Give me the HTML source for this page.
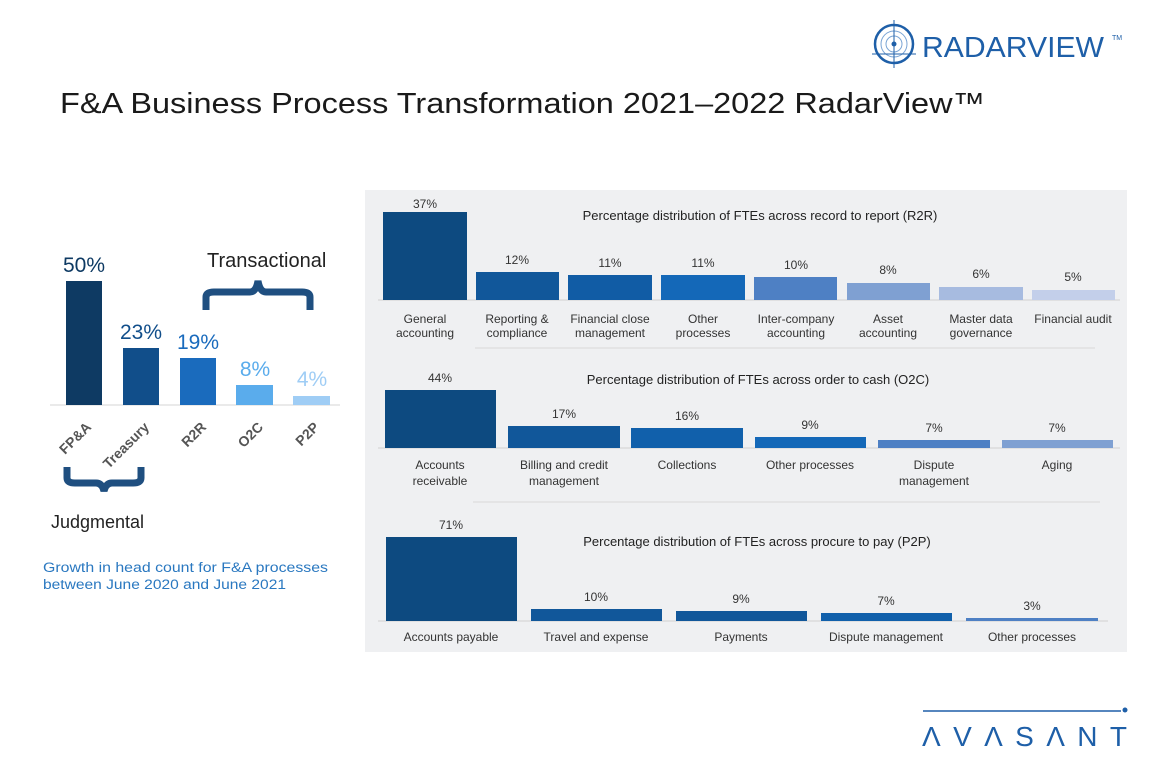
<!DOCTYPE html>
<html><head><meta charset="utf-8"><style>
html,body{margin:0;padding:0;background:#fff;width:1152px;height:768px;overflow:hidden}
svg{display:block}
text{font-family:"Liberation Sans",sans-serif}
</style></head><body>
<svg width="1152" height="768" viewBox="0 0 1152 768" xmlns="http://www.w3.org/2000/svg">
<!-- Radarview logo -->
<g stroke="#1e5fa8" fill="none">
<circle cx="894" cy="44" r="19" stroke-width="2.5"/>
<circle cx="894" cy="44" r="13" stroke-width="1" stroke="#7aa4d4"/>
<circle cx="894" cy="44" r="8" stroke-width="1" stroke="#7aa4d4"/>
<line x1="894" y1="20" x2="894" y2="68" stroke-width="1"/>
<line x1="872" y1="54" x2="916" y2="54" stroke-width="1"/>
</g>
<circle cx="894" cy="44" r="2.5" fill="#1e5fa8"/>
<text x="922" y="57" font-size="29" fill="#1e5fa8" textLength="182" lengthAdjust="spacingAndGlyphs">RADARVIEW</text>
<text x="1112" y="40" font-size="7" fill="#1e5fa8">TM</text>
<!-- Title -->
<text x="60" y="113" font-size="29" fill="#1a1a1a" textLength="925" lengthAdjust="spacingAndGlyphs">F&amp;A Business Process Transformation 2021–2022 RadarView™</text>
<!-- Left chart -->
<line x1="50" y1="405" x2="340" y2="405" stroke="#d6d6d6"/>
<rect x="66" y="281" width="36" height="124" fill="#0e3a63"/>
<rect x="123" y="348" width="36" height="57" fill="#114e8a"/>
<rect x="180" y="358" width="36" height="47" fill="#1a6bbd"/>
<rect x="236" y="385" width="37" height="20" fill="#5aacec"/>
<rect x="293" y="396" width="37" height="9" fill="#9fcdf5"/>
<g font-size="21" text-anchor="middle">
<text x="84" y="272" fill="#0e3a63">50%</text>
<text x="141" y="339" fill="#114e8a">23%</text>
<text x="198" y="349" fill="#1a6bbd">19%</text>
<text x="255" y="376" fill="#5aacec">8%</text>
<text x="312" y="386" fill="#9fcdf5">4%</text>
</g>
<g font-size="14" font-weight="bold" fill="#555" text-anchor="end">
<text transform="translate(92,428) rotate(-45)">FP&amp;A</text>
<text transform="translate(150,428) rotate(-45)">Treasury</text>
<text transform="translate(207,428) rotate(-45)">R2R</text>
<text transform="translate(264,428) rotate(-45)">O2C</text>
<text transform="translate(320,428) rotate(-45)">P2P</text>
</g>
<text x="207" y="267" font-size="20" fill="#222">Transactional</text>
<path d="M206,310 L206,297 Q206,292 214,292 L250,292 Q256,292 258,281 Q260,292 266,292 L302,292 Q310,292 310,297 L310,310" stroke="#1f4f80" stroke-width="7" fill="none"/>
<path d="M67,467 L67,478 Q67,483 75,483 L96,483 Q102,483 104,491 Q106,483 112,483 L133,483 Q141,483 141,478 L141,467" stroke="#1f4f80" stroke-width="7" fill="none"/>
<text x="51" y="528" font-size="18" fill="#222">Judgmental</text>
<text x="43" y="572" font-size="13.5" fill="#2a78c0" textLength="285" lengthAdjust="spacingAndGlyphs">Growth in head count for F&amp;A processes</text>
<text x="43" y="589" font-size="13.5" fill="#2a78c0" textLength="243" lengthAdjust="spacingAndGlyphs">between June 2020 and June 2021</text>
<!-- Right panel -->
<rect x="365" y="190" width="762" height="462" fill="#eff0f2"/>
<!-- R2R -->
<line x1="378" y1="300" x2="1120" y2="300" stroke="#d0d0d0"/>
<line x1="475" y1="348" x2="1095" y2="348" stroke="#d8d8d8"/>
<rect x="383" y="212" width="84" height="88" fill="#0d4a80"/>
<rect x="476" y="272" width="83" height="28" fill="#11579a"/>
<rect x="568" y="275" width="84" height="25" fill="#115ca5"/>
<rect x="661" y="275" width="84" height="25" fill="#1468b8"/>
<rect x="754" y="277" width="83" height="23" fill="#4e80c4"/>
<rect x="847" y="283" width="83" height="17" fill="#7fa0d2"/>
<rect x="939" y="287" width="84" height="13" fill="#a7bbe0"/>
<rect x="1032" y="290" width="83" height="10" fill="#c3cfea"/>
<g font-size="12" fill="#333" text-anchor="middle">
<text x="425" y="208">37%</text><text x="517" y="264">12%</text><text x="610" y="267">11%</text><text x="703" y="267">11%</text><text x="796" y="269">10%</text><text x="888" y="274">8%</text><text x="981" y="278">6%</text><text x="1073" y="281">5%</text>
<text x="425" y="323">General</text><text x="425" y="337">accounting</text>
<text x="517" y="323">Reporting &amp;</text><text x="517" y="337">compliance</text>
<text x="610" y="323">Financial close</text><text x="610" y="337">management</text>
<text x="703" y="323">Other</text><text x="703" y="337">processes</text>
<text x="796" y="323">Inter-company</text><text x="796" y="337">accounting</text>
<text x="888" y="323">Asset</text><text x="888" y="337">accounting</text>
<text x="981" y="323">Master data</text><text x="981" y="337">governance</text>
<text x="1073" y="323">Financial audit</text>
</g>
<text x="760" y="220" font-size="13" fill="#222" text-anchor="middle">Percentage distribution of FTEs across record to report (R2R)</text>
<!-- O2C -->
<line x1="378" y1="448" x2="1120" y2="448" stroke="#d0d0d0"/>
<line x1="473" y1="502" x2="1100" y2="502" stroke="#d8d8d8"/>
<rect x="385" y="390" width="111" height="58" fill="#0d4a80"/>
<rect x="508" y="426" width="112" height="22" fill="#11579a"/>
<rect x="631" y="428" width="112" height="20" fill="#1160ab"/>
<rect x="755" y="437" width="111" height="11" fill="#1468b8"/>
<rect x="878" y="440" width="112" height="8" fill="#4e80c4"/>
<rect x="1002" y="440" width="111" height="8" fill="#7fa0d2"/>
<g font-size="12" fill="#333" text-anchor="middle">
<text x="440" y="382">44%</text><text x="564" y="418">17%</text><text x="687" y="420">16%</text><text x="810" y="429">9%</text><text x="934" y="432">7%</text><text x="1057" y="432">7%</text>
<text x="440" y="469">Accounts</text><text x="440" y="485">receivable</text>
<text x="564" y="469">Billing and credit</text><text x="564" y="485">management</text>
<text x="687" y="469">Collections</text>
<text x="810" y="469">Other processes</text>
<text x="934" y="469">Dispute</text><text x="934" y="485">management</text>
<text x="1057" y="469">Aging</text>
</g>
<text x="758" y="384" font-size="13" fill="#222" text-anchor="middle">Percentage distribution of FTEs across order to cash (O2C)</text>
<!-- P2P -->
<line x1="378" y1="621" x2="1108" y2="621" stroke="#d0d0d0"/>
<rect x="386" y="537" width="131" height="84" fill="#0d4a80"/>
<rect x="531" y="609" width="131" height="12" fill="#11579a"/>
<rect x="676" y="611" width="131" height="10" fill="#11579a"/>
<rect x="821" y="613" width="131" height="8" fill="#1160ab"/>
<rect x="966" y="618" width="132" height="3" fill="#4e80c4"/>
<g font-size="12" fill="#333" text-anchor="middle">
<text x="451" y="529">71%</text><text x="596" y="601">10%</text><text x="741" y="603">9%</text><text x="886" y="605">7%</text><text x="1032" y="610">3%</text>
<text x="451" y="641">Accounts payable</text><text x="596" y="641">Travel and expense</text><text x="741" y="641">Payments</text><text x="886" y="641">Dispute management</text><text x="1032" y="641">Other processes</text>
</g>
<text x="757" y="546" font-size="13" fill="#222" text-anchor="middle">Percentage distribution of FTEs across procure to pay (P2P)</text>
<!-- Avasant -->
<line x1="923" y1="711" x2="1121" y2="711" stroke="#1e5fa8" stroke-width="1.5"/>
<circle cx="1125" cy="710" r="2.5" fill="#1e5fa8"/>
<text x="922" y="746" font-size="28" fill="#1e5fa8" textLength="205" lengthAdjust="spacing">ΛVΛSΛNT</text>
</svg>
</body></html>
